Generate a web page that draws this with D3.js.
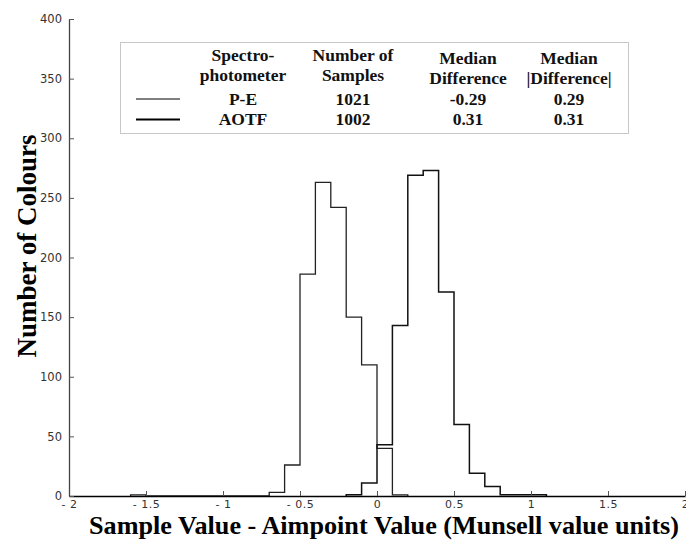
<!DOCTYPE html>
<html><head><meta charset="utf-8">
<script src="https://cdn.jsdelivr.net/npm/d3@7"></script>
<style>body{margin:0;background:#fff}svg{display:block}</style>
</head><body>
<svg id="chart" width="686" height="540"></svg>
<script>
// ---- data ----
const binWidth = 0.1;
const peBinStarts = [-1.6,-1.5,-1.4,-1.3,-1.2,-1.1,-1.0,-0.9,-0.8,-0.7,-0.6,-0.5,-0.4,-0.3,-0.2,-0.1,0.0,0.1];
const peCounts    = [1,0,0,0,0,0,0,0,0,3,26,186,263,242,150,110,40,1];
const aotfBinStarts = [-0.2,-0.1,0.0,0.1,0.2,0.3,0.4,0.5,0.6,0.7,0.8,0.9,1.0];
const aotfCounts    = [1,11,43,143,269,273,171,60,19,8,1,1,1];
const xTicks = [-2,-1.5,-1,-0.5,0,0.5,1,1.5,2];
const xTickLabels = ["- 2","- 1.5","- 1","- 0.5","0","0.5","1","1.5","2"];
const yTicks = [0,50,100,150,200,250,300,350,400];
const legendHeaders = [["Spectro-","photometer"],["Number of","Samples"],["Median","Difference"],["Median","|Difference|"]];
const legendRows = [["P-E","1021","-0.29","0.29"],["AOTF","1002","0.31","0.31"]];

// ---- layout ----
const svg = d3.select("#chart");
const x = d3.scaleLinear().domain([-2,2]).range([69,685]);
const y = d3.scaleLinear().domain([0,400]).range([496,19]);

function stepPoints(starts, counts){
  const pts = [[starts[0],0]];
  starts.forEach((s,i)=>{ pts.push([s,counts[i]]); pts.push([s+binWidth,counts[i]]); });
  pts.push([starts[starts.length-1]+binWidth,0]);
  return pts;
}
const line = d3.line().x(d=>x(d[0])).y(d=>y(d[1]));
svg.append("path").attr("d", line(stepPoints(peBinStarts,peCounts)))
  .attr("fill","none").attr("stroke","#222").attr("stroke-width",1.3);
svg.append("path").attr("d", line(stepPoints(aotfBinStarts,aotfCounts)))
  .attr("fill","none").attr("stroke","#111").attr("stroke-width",1.5);

// axes
const xAxis = d3.axisBottom(x).tickValues(xTicks).tickSizeInner(-5).tickSizeOuter(0)
  .tickFormat((d,i)=>xTickLabels[i]).tickPadding(4);
const gx = svg.append("g").attr("transform","translate(0,496)").call(xAxis);
gx.select(".domain").attr("stroke","#000").attr("stroke-width",1.6);
gx.selectAll(".tick line").attr("stroke","#555");
gx.selectAll(".tick text").attr("font-family","DejaVu Sans").attr("font-size",11).attr("fill","#333").attr("letter-spacing","0.5px");

const yAxis = d3.axisLeft(y).tickValues(yTicks).tickSizeInner(-5).tickSizeOuter(0).tickPadding(7);
const gy = svg.append("g").attr("transform","translate(69,0)").call(yAxis);
gy.select(".domain").attr("stroke","#444").attr("stroke-width",1.3);
gy.selectAll(".tick line").attr("stroke","#555");
gy.selectAll(".tick text").attr("font-family","DejaVu Sans").attr("font-size",11.5).attr("fill","#333");

// axis titles
svg.append("text").attr("x",384).attr("y",534).attr("text-anchor","middle")
  .attr("font-family","Liberation Serif").attr("font-weight","bold").attr("font-size",26.2)
  .text("Sample Value - Aimpoint Value (Munsell value units)");
svg.append("text").attr("transform","translate(36,246) rotate(-90)").attr("text-anchor","middle")
  .attr("font-family","Liberation Serif").attr("font-weight","bold").attr("font-size",27)
  .text("Number of Colours");

// legend
const lg = svg.append("g");
lg.append("rect").attr("x",120.5).attr("y",42.5).attr("width",508).attr("height",91)
  .attr("fill","#fff").attr("stroke","#c8c8c8").attr("stroke-width",1);
const colX = [243,353,468,569];
const headY = [[61,81],[61,81],[64,84],[64,84]];
const tf = sel => sel.attr("font-family","Liberation Serif").attr("font-weight","bold").attr("font-size",17.5).attr("text-anchor","middle").attr("fill","#111");
legendHeaders.forEach((h,i)=>{
  h.forEach((t,j)=>{ lg.append("text").attr("x",colX[i]).attr("y",headY[i][j]).call(tf).text(t); });
});
const rowY = [104.5,125];
const rowW = [1,2];
legendRows.forEach((r,k)=>{
  lg.append("line").attr("x1",136).attr("x2",180).attr("y1",rowY[k]-5.5).attr("y2",rowY[k]-5.5)
    .attr("stroke","#000").attr("stroke-width",rowW[k]);
  r.forEach((t,i)=>{ lg.append("text").attr("x",colX[i]).attr("y",rowY[k]).call(tf).text(t); });
});
</script>
</body></html>
